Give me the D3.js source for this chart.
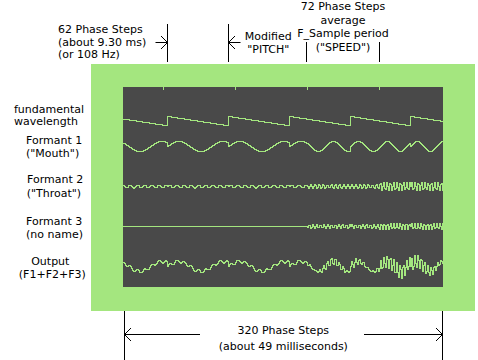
<!DOCTYPE html>
<html><head><meta charset="utf-8">
<script src="https://cdn.jsdelivr.net/npm/d3@7/dist/d3.min.js"></script>
<style>
body{margin:0;background:#fff}
svg{display:block}
text{font-family:"DejaVu Sans",Verdana,sans-serif;font-size:11px;fill:#000}
</style>
</head><body>
<svg id="c" width="478" height="360"></svg>
<script>
// ---------------- data ----------------
const rowLabels = [
  ["fundamental", "wavelength"],
  ["Formant 1", "(\"Mouth\")"],
  ["Formant 2", "(\"Throat\")"],
  ["Formant 3", "(no name)"],
  ["Output", "(F1+F2+F3)"]
];
const panelSteps = 320;                       // phase steps across the panel
const frameStarts = [0, 40, 112, 184, 256];    // F_Sample frame boundaries (tick marks)
const pitchStarts = [-17, 44, 105, 166, 227, 287, 348]; // fundamental restarts
const f1Period = [44, 44, 44, 30, 26];
const f1Amp    = [1, 1, 1, 1, 1];
const f2Period = [7.2, 7.2, 7.2, 4.1, 3.3];
const f2Amp    = [0.3, 0.3, 0.3, 0.4, 0.85];
const f3Period = [3.7, 3.7, 3.7, 3.7, 3.15];
const f3Amp    = [0, 0, 0, 0.35, 0.6];
const topLeftNote  = ["62 Phase Steps", "(about 9.30 ms)", "(or 108 Hz)"];
const pitchNote    = ["Modified", "\"PITCH\""];
const speedNote    = ["72 Phase Steps", "average", "F_Sample period", "(\"SPEED\")"];
const bottomNote   = ["320 Phase Steps", "(about 49 milliseconds)"];

// ---------------- simulate ----------------
function frameOf(s){ let i = 0; frameStarts.forEach((b,k)=>{ if (s >= b) i = k; }); return i; }
const samples = [];
let p1=0,p2=0,p3=0,cnt=0,per=61;
for (let s = pitchStarts[0]; s < panelSteps; s++) {
  const ri = pitchStarts.indexOf(s);
  if (ri >= 0) { p1=p2=p3=0; cnt=0; per = (pitchStarts[ri+1] ?? s+61) - s; }
  const f = frameOf(Math.max(s,0));
  if (s >= 0) {
    const v1 = f1Amp[f]*Math.sin(2*Math.PI*p1);
    const v2 = f2Amp[f]*Math.sin(2*Math.PI*p2);
    const v3 = f3Amp[f]*Math.sin(2*Math.PI*p3);
    samples.push({s, fund: 1 - cnt/per, f1: v1, f2: v2, f3: v3, out: v1+v2+v3});
  }
  p1 += 1/f1Period[f]; p2 += 1/f2Period[f]; p3 += 1/f3Period[f];
  cnt++;
}

// ---------------- draw ----------------
const svg = d3.select("#c");
const green = "#a4e67f", dark = "#494949";
svg.append("rect").attr("x",91).attr("y",64).attr("width",384).attr("height",247).attr("fill",green);
svg.append("rect").attr("x",123).attr("y",87).attr("width",320).attr("height",200).attr("fill",dark);

const x = d3.scaleLinear().domain([0, panelSteps]).range([123, 443]);

// frame ticks
svg.append("g").selectAll("line").data(frameStarts.slice(1)).join("line")
  .attr("x1",d=>x(d)+0.5).attr("x2",d=>x(d)+0.5).attr("y1",87).attr("y2",90)
  .attr("stroke",green).attr("shape-rendering","crispEdges");

const rowCenters = [120.7, 146, 186, 226, 266];
const halfH = [4.7, 5, 5, 5, 5];
const keys = ["fund","f1","f2","f3","out"];
keys.forEach((k,i)=>{
  const y = k === "fund"
    ? d3.scaleLinear().domain([0,1]).range([rowCenters[i]+halfH[i], rowCenters[i]-halfH[i]])
    : d3.scaleLinear().domain([-1,1]).range([rowCenters[i]+halfH[i], rowCenters[i]-halfH[i]]);
  const pts = samples.map(d=>[x(d.s), Math.round(y(d[k]))+0.5]);
  pts.push([x(panelSteps), pts[pts.length-1][1]]);
  svg.append("path").attr("d", d3.line().curve(d3.curveStepAfter)(pts))
    .attr("fill","none").attr("stroke",green).attr("stroke-width",1)
    .attr("shape-rendering","crispEdges");
});

// left labels
const labelPos = [[14,112.5,"start",14,125,"start"],[26,144.3,"start",26,157.3,"start"],
  [27,183.3,"start",26.7,196.7,"start"],[26,225,"start",26,238.3,"start"],
  [50.3,265,"middle",52.3,277.7,"middle"]];
rowLabels.forEach((l,i)=>{
  const p = labelPos[i];
  svg.append("text").attr("x",p[0]).attr("y",p[1]).attr("text-anchor",p[2]).text(l[0]);
  svg.append("text").attr("x",p[3]).attr("y",p[4]).attr("text-anchor",p[5]).text(l[1]);
});

// annotations
const ann = svg.append("g").attr("stroke","#000").attr("fill","none").attr("stroke-width",1);
function seg(x1,y1,x2,y2){ ann.append("line").attr("x1",x1).attr("y1",y1).attr("x2",x2).attr("y2",y2); }
function poly(pts){ ann.append("path").attr("d", d3.line()(pts)); }

const xa = x(pitchStarts[1]) + 0.5, xb = x(pitchStarts[2]) + 0.5;
seg(xa,24,xa,62); seg(xb,24,xb,62);
seg(xa-12,42.5,xa,42.5); poly([[xa-6.5,36],[xa,42.5],[xa-6.5,49]]);
seg(xb,42.5,xb+12,42.5); poly([[xb+6.5,36],[xb,42.5],[xb+6.5,49]]);

const xc = x(frameStarts[3]) - 0.5, xd = x(frameStarts[4]) + 0.5;
seg(xc,42,xc,62); seg(xd,42,xd,62);

const xl = x(0) + 1.5, xr = x(panelSteps) - 0.5;
seg(xl,311,xl,360); seg(xr,311,xr,360);
seg(xl,334.5,200,334.5); seg(364,334.5,xr,334.5);
poly([[xl+6.5,328],[xl,334.5],[xl+6.5,341]]);
poly([[xr-6.5,328],[xr,334.5],[xr-6.5,341]]);

const tl = [33,45.5,58];
topLeftNote.forEach((t,i)=>svg.append("text").attr("x",58).attr("y",tl[i]).text(t));
const pn = [40,53.3];
pitchNote.forEach((t,i)=>svg.append("text").attr("x",268.3).attr("y",pn[i]).attr("text-anchor","middle").text(t));
const sn = [10.3,23.7,37,50.5];
speedNote.forEach((t,i)=>svg.append("text").attr("x",343).attr("y",sn[i]).attr("text-anchor","middle").text(t));
const bn = [334,349.5];
bottomNote.forEach((t,i)=>svg.append("text").attr("x",283.3).attr("y",bn[i]).attr("text-anchor","middle").text(t));
</script>
</body></html>
